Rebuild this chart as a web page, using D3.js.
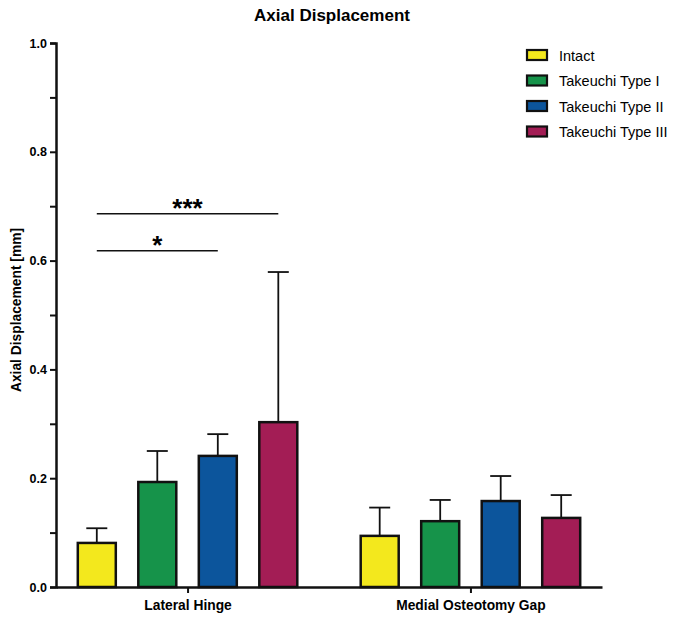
<!DOCTYPE html>
<html>
<head>
<meta charset="utf-8">
<script src="https://cdn.jsdelivr.net/npm/d3@7"></script>
<style>
  body { margin: 0; background: #fff; }
  svg text { font-family: "Liberation Sans", Arial, Helvetica, sans-serif; fill: #000; }
</style>
</head>
<body>
<div id="chart"></div>
<script>
// data
const groups = ["Lateral Hinge", "Medial Osteotomy Gap"];
const series = ["Intact", "Takeuchi Type I", "Takeuchi Type II", "Takeuchi Type III"];
const colors = ["#f3e81d", "#16934a", "#0c559c", "#a31d55"];

const lateralMeans = [0.081, 0.193, 0.241, 0.303];
const lateralSD = [0.027, 0.057, 0.040, 0.276];
const medialMeans = [0.094, 0.121, 0.158, 0.127];
const medialSD = [0.052, 0.039, 0.046, 0.042];

const yTicks = [0, 0.1, 0.2, 0.3, 0.4, 0.5, 0.6, 0.7, 0.8, 0.9, 1.0];

// significance brackets (from series, to series, y level) within Lateral Hinge
const sigFrom = [0, 0];
const sigTo = [3, 2];
const sigLevel = [0.686, 0.618];
const sigLabel = ["***", "*"];

const width = 674, height = 619;
const x0 = 56, x1 = 602, yTop = 43, yBottom = 587;

const svg = d3.select("#chart").append("svg")
    .attr("width", width)
    .attr("height", height);

const y = d3.scaleLinear().domain([0, 1]).range([yBottom, yTop]);
const xGroup = d3.scalePoint().domain(groups).range([x0, x1]).padding(0.465);
const xSeries = d3.scaleBand().domain(series).range([-109.75, 109.75]).paddingInner(0.372).paddingOuter(0);

const data = [];
groups.forEach((g, gi) => {
    const means = gi === 0 ? lateralMeans : medialMeans;
    const sds = gi === 0 ? lateralSD : medialSD;
    series.forEach((s, si) => {
        data.push({group: g, series: s, mean: means[si], sd: sds[si], color: colors[si]});
    });
});

const barX = d => xGroup(d.group) + xSeries(d.series);
const barCenter = d => barX(d) + xSeries.bandwidth() / 2;

// title
svg.append("text")
    .attr("x", 332)
    .attr("y", 21)
    .attr("text-anchor", "middle")
    .attr("font-size", 17)
    .attr("font-weight", "bold")
    .text("Axial Displacement");

// y axis title
svg.append("text")
    .attr("transform", `translate(21, ${310}) rotate(-90)`)
    .attr("text-anchor", "middle")
    .attr("font-size", 13.8)
    .attr("font-weight", "bold")
    .text("Axial Displacement [mm]");

// error bars (upper only), drawn before bars so the stem starts at the bar top
const err = svg.append("g").attr("stroke", "#111").attr("stroke-width", 1.8);
err.selectAll("line.stem")
    .data(data)
    .enter().append("line")
    .attr("class", "stem")
    .attr("x1", barCenter)
    .attr("x2", barCenter)
    .attr("y1", d => y(d.mean))
    .attr("y2", d => y(d.mean + d.sd));
err.selectAll("line.cap")
    .data(data)
    .enter().append("line")
    .attr("class", "cap")
    .attr("x1", d => barCenter(d) - 10.5)
    .attr("x2", d => barCenter(d) + 10.5)
    .attr("y1", d => y(d.mean + d.sd))
    .attr("y2", d => y(d.mean + d.sd));

// bars
svg.append("g").selectAll("rect")
    .data(data)
    .enter().append("rect")
    .attr("x", barX)
    .attr("y", d => y(d.mean))
    .attr("width", xSeries.bandwidth())
    .attr("height", d => y(0) - y(d.mean))
    .attr("fill", d => d.color)
    .attr("stroke", "#111")
    .attr("stroke-width", 2.5);

// y axis
const yAxis = d3.axisLeft(y)
    .tickValues(yTicks)
    .tickSize(6)
    .tickPadding(3)
    .tickFormat(d => (Math.round(d * 10) % 2 === 0) ? d3.format(".1f")(d) : "");
const yg = svg.append("g")
    .attr("transform", `translate(${x0},0)`)
    .call(yAxis);
yg.select(".domain").attr("stroke", "#111").attr("stroke-width", 2.5);
yg.selectAll(".tick line").attr("stroke", "#111").attr("stroke-width", 2);
yg.selectAll(".tick text")
    .attr("font-size", 12.5)
    .attr("font-weight", "bold")
    .attr("font-family", "\"Liberation Sans\", Arial, sans-serif");

// x axis
const xAxis = d3.axisBottom(xGroup).tickSize(6).tickPadding(7).tickSizeOuter(0);
const xg = svg.append("g")
    .attr("transform", `translate(0,${yBottom})`)
    .call(xAxis);
xg.select(".domain").attr("stroke", "#111").attr("stroke-width", 2.5);
xg.selectAll(".tick line").attr("stroke", "#111").attr("stroke-width", 2);
xg.selectAll(".tick text")
    .attr("font-size", 13.8)
    .attr("font-weight", "bold")
    .attr("font-family", "\"Liberation Sans\", Arial, sans-serif");

// significance brackets
const sig = sigFrom.map((f, i) => ({
    from: {group: groups[0], series: series[f]},
    to: {group: groups[0], series: series[sigTo[i]]},
    level: sigLevel[i],
    label: sigLabel[i]
}));
const sg = svg.append("g");
sg.selectAll("line")
    .data(sig)
    .enter().append("line")
    .attr("x1", d => barCenter(d.from))
    .attr("x2", d => barCenter(d.to))
    .attr("y1", d => y(d.level))
    .attr("y2", d => y(d.level))
    .attr("stroke", "#111")
    .attr("stroke-width", 1.5);
sg.selectAll("text")
    .data(sig)
    .enter().append("text")
    .attr("x", d => (barCenter(d.from) + barCenter(d.to)) / 2)
    .attr("y", d => y(d.level) + 3)
    .attr("text-anchor", "middle")
    .attr("font-size", 26)
    .attr("font-weight", "bold")
    .text(d => d.label);

// legend
const legend = svg.append("g").attr("transform", "translate(527,50)");
const item = legend.selectAll("g")
    .data(series)
    .enter().append("g")
    .attr("transform", (d, i) => `translate(0,${i * 25.5})`);
item.append("rect")
    .attr("width", 20)
    .attr("height", 10)
    .attr("fill", (d, i) => colors[i])
    .attr("stroke", "#111")
    .attr("stroke-width", 2.2);
item.append("text")
    .attr("x", 32)
    .attr("y", 10.5)
    .attr("font-size", 14.5)
    .text(d => d);
</script>
</body>
</html>
